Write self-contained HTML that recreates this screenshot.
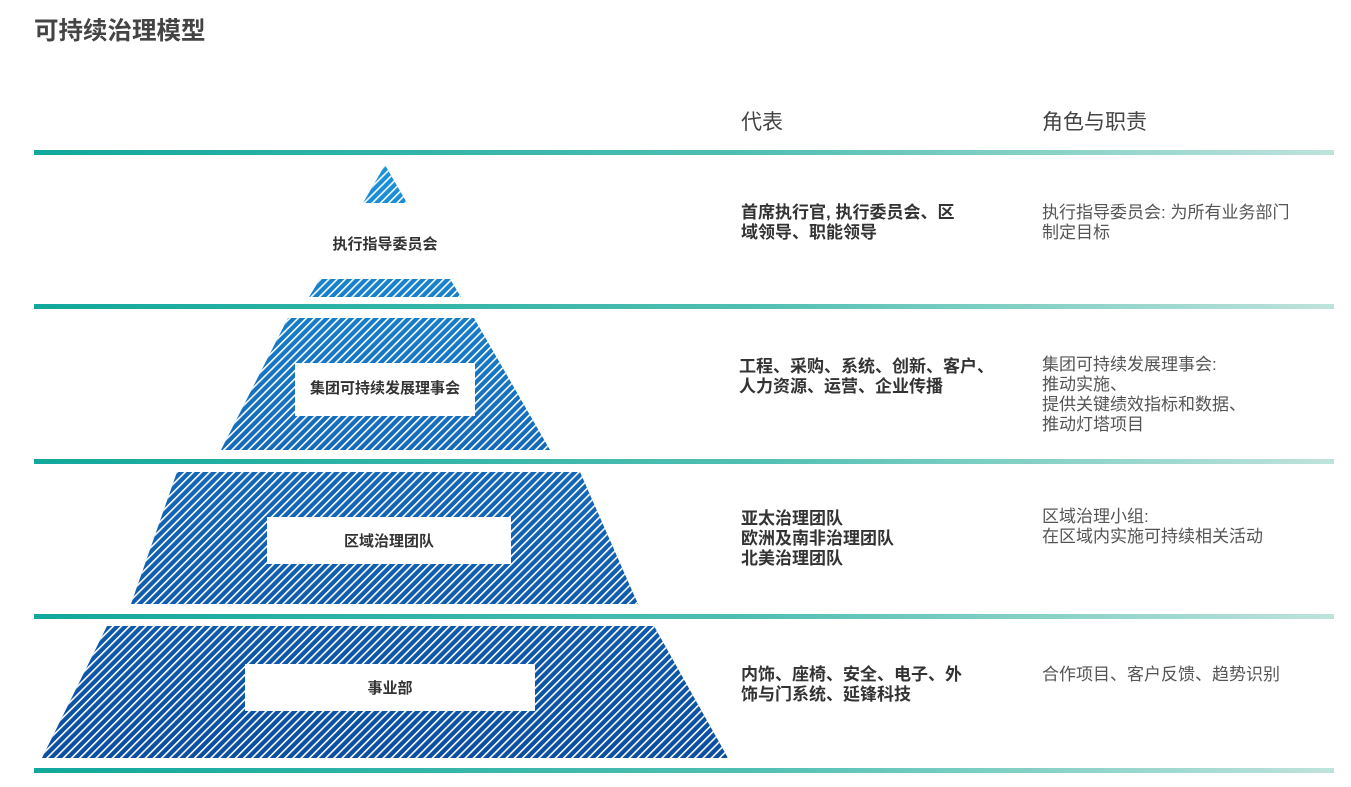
<!DOCTYPE html>
<html><head><meta charset="utf-8"><style>
html,body{margin:0;padding:0;background:#fff;width:1351px;height:787px;overflow:hidden}
svg{display:block}
text{font-family:"Liberation Sans","Noto Sans CJK SC",sans-serif}
.h{font-size:21px;fill:#444}
.b{font-size:17px;font-weight:bold;fill:#333}
.n{font-size:17px;fill:#555}
.l{font-size:15px;font-weight:bold;fill:#333}
</style></head><body>
<svg width="1351" height="787" viewBox="0 0 1351 787">
<defs>
<linearGradient id="tl" x1="0" x2="1" y1="0" y2="0">
<stop offset="0" stop-color="#12a89c"/><stop offset="0.55" stop-color="#4fbfb2"/><stop offset="1" stop-color="#bfe3dc"/>
</linearGradient>
<linearGradient id="bg" x1="0" x2="0" y1="165" y2="760" gradientUnits="userSpaceOnUse">
<stop offset="0" stop-color="#1a93da"/><stop offset="0.5" stop-color="#1468b8"/><stop offset="1" stop-color="#0a4ea0"/>
</linearGradient>
<pattern id="st" width="5.8" height="8" patternUnits="userSpaceOnUse" patternTransform="rotate(45)">
<rect x="0" y="0" width="1.6" height="8" fill="#fff"/>
</pattern>
</defs>
<text x="34" y="39" font-size="24.5" font-weight="bold" fill="#444">可持续治理模型</text>
<text x="741" y="129" class="h">代表</text>
<text x="1042" y="129" class="h">角色与职责</text>

<g fill="url(#tl)">
<rect x="34" y="150" width="1300" height="5"/>
<rect x="34" y="304" width="1300" height="5"/>
<rect x="34" y="459" width="1300" height="5"/>
<rect x="34" y="614" width="1300" height="5"/>
<rect x="34" y="768" width="1300" height="5"/>
</g>

<g fill="url(#bg)">
<polygon points="385,165 407,203 363,203"/>
<polygon points="320,279 450,279 461,297 309,297"/>
<polygon points="288,318 474,318 550,450 221,450"/>
<polygon points="177,472 580,472 638,604 131,604"/>
<polygon points="107,626 654,626 728,758 42,758"/>
</g>
<g fill="url(#st)">
<polygon points="385,165 407,203 363,203"/>
<polygon points="320,279 450,279 461,297 309,297"/>
<polygon points="288,318 474,318 550,450 221,450"/>
<polygon points="177,472 580,472 638,604 131,604"/>
<polygon points="107,626 654,626 728,758 42,758"/>
</g>

<rect x="295" y="363" width="180" height="53" fill="#fff"/>
<rect x="267" y="517" width="244" height="47" fill="#fff"/>
<rect x="245" y="664" width="290" height="47" fill="#fff"/>
<text x="385" y="249" class="l" text-anchor="middle">执行指导委员会</text>
<text x="385" y="393" class="l" text-anchor="middle">集团可持续发展理事会</text>
<text x="389" y="546" class="l" text-anchor="middle">区域治理团队</text>
<text x="390" y="693" class="l" text-anchor="middle">事业部</text>

<text class="b"><tspan x="741" y="218">首席执行官, 执行委员会、区</tspan><tspan x="741" y="238">域领导、职能领导</tspan></text>
<text class="b"><tspan x="739" y="372">工程、采购、系统、创新、客户、</tspan><tspan x="739" y="392">人力资源、运营、企业传播</tspan></text>
<text class="b"><tspan x="741" y="524">亚太治理团队</tspan><tspan x="741" y="544">欧洲及南非治理团队</tspan><tspan x="741" y="564">北美治理团队</tspan></text>
<text class="b"><tspan x="741" y="680">内饰、座椅、安全、电子、外</tspan><tspan x="741" y="700">饰与门系统、延锋科技</tspan></text>

<text class="n"><tspan x="1042" y="218">执行指导委员会: 为所有业务部门</tspan><tspan x="1042" y="238">制定目标</tspan></text>
<text class="n"><tspan x="1042" y="370">集团可持续发展理事会:</tspan><tspan x="1042" y="390">推动实施、</tspan><tspan x="1042" y="410">提供关键绩效指标和数据、</tspan><tspan x="1042" y="430">推动灯塔项目</tspan></text>
<text class="n"><tspan x="1042" y="522">区域治理小组:</tspan><tspan x="1042" y="542">在区域内实施可持续相关活动</tspan></text>
<text class="n"><tspan x="1042" y="680">合作项目、客户反馈、趋势识别</tspan></text>
</svg>
</body></html>
